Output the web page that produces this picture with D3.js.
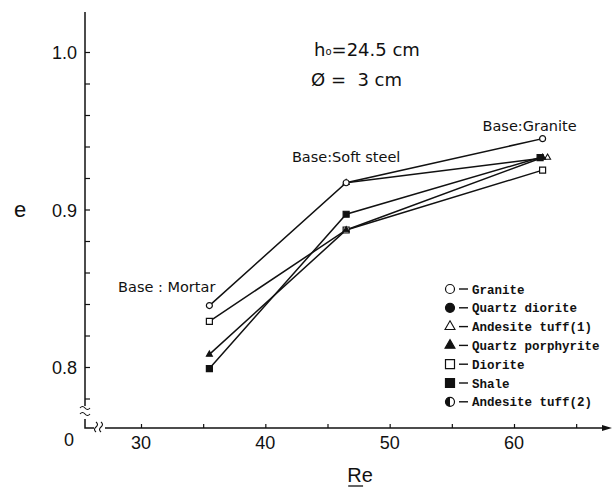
<!DOCTYPE html>
<html>
<head>
<meta charset="utf-8">
<script src="https://cdn.jsdelivr.net/npm/d3@7"></script>
<style>
  body { margin: 0; background: #fff; }
  svg { display: block; }
</style>
</head>
<body>
<div id="chart"></div>
<script>
// Axis ticks
const RE_TICKS = [30, 35, 40, 45, 50, 55, 60, 65];
const RE_LABELS = [30, 40, 50, 60];
const E_TICKS = [0.78, 0.80, 0.82, 0.84, 0.86, 0.88, 0.90, 0.92, 0.94, 0.96, 0.98, 1.00];
const E_LABELS = [0.8, 0.9, 1.0];

// [Re, e] per rock
const GRANITE = [[35.5, 0.839], [46.5, 0.917], [62.3, 0.945]];
const QUARTZ_DIORITE = [];
const ANDESITE_TUFF_1 = [[46.5, 0.917], [62.7, 0.933]];
const QUARTZ_PORPHYRITE = [[35.5, 0.808], [46.5, 0.887], [62.3, 0.933]];
const DIORITE = [[35.5, 0.829], [46.5, 0.887], [62.3, 0.925]];
const SHALE = [[35.5, 0.799], [46.5, 0.897], [62.1, 0.933]];
const ANDESITE_TUFF_2 = [];

const ROCK_NAMES = ["Granite", "Quartz diorite", "Andesite tuff(1)", "Quartz porphyrite", "Diorite", "Shale", "Andesite tuff(2)"];
const BASE_LABELS = ["Base : Mortar", "Base:Soft steel", "Base:Granite"];

const series = [
  { name: ROCK_NAMES[2], sym: "triOpen", values: ANDESITE_TUFF_1 },
  { name: ROCK_NAMES[4], sym: "sqOpen", values: DIORITE },
  { name: ROCK_NAMES[3], sym: "tri", values: QUARTZ_PORPHYRITE },
  { name: ROCK_NAMES[5], sym: "sq", values: SHALE },
  { name: ROCK_NAMES[1], sym: "circle", values: QUARTZ_DIORITE },
  { name: ROCK_NAMES[6], sym: "half", values: ANDESITE_TUFF_2 },
  { name: ROCK_NAMES[0], sym: "circleOpen", values: GRANITE }
];
const legendSyms = ["circleOpen", "circle", "triOpen", "tri", "sqOpen", "sq", "half"];

const W = 614, H = 491;
const axisX = 85, axisY = 428;

const svg = d3.select("#chart").append("svg")
  .attr("width", W).attr("height", H);

const x = d3.scaleLinear().domain([30, 60]).range([141, 514]);
const y = d3.scaleLinear().domain([0.8, 1.0]).range([367, 52]);

const ink = "#111";
const numFont = "'Liberation Sans', Arial, sans-serif";
const noteFont = "'DejaVu Sans', sans-serif";

// marker drawing
function marker(sel, sym, s) {
  // s = nominal width in px
  if (sym === "circleOpen" || sym === "circle") {
    sel.append("circle").attr("r", s / 2)
      .attr("fill", sym === "circle" ? ink : "#fff")
      .attr("stroke", ink).attr("stroke-width", 1.2);
  } else if (sym === "half") {
    const r = s / 2;
    sel.append("circle").attr("r", r).attr("fill", "#fff")
      .attr("stroke", ink).attr("stroke-width", 1.2);
    sel.append("path").attr("d", `M0,${-r}A${r},${r} 0 0 0 0,${r}Z`).attr("fill", ink);
  } else if (sym === "sqOpen" || sym === "sq") {
    sel.append("path")
      .attr("d", d3.symbol(d3.symbolSquare, s * s)())
      .attr("fill", sym === "sq" ? ink : "#fff")
      .attr("stroke", ink).attr("stroke-width", 1.2);
  } else {
    sel.append("path")
      .attr("d", d3.symbol(d3.symbolTriangle, Math.sqrt(3) / 4 * s * s)())
      .attr("fill", sym === "tri" ? ink : "#fff")
      .attr("stroke", ink).attr("stroke-width", 1.1);
  }
}

// X axis ticks (pointing up) and labels
const gx = svg.append("g").attr("transform", `translate(0,${axisY})`)
  .call(d3.axisBottom(x).tickValues(RE_TICKS).tickSize(-4).tickFormat(""))
  .call(ax => ax.select(".domain").remove())
  .call(ax => ax.selectAll(".tick line").attr("stroke", ink).attr("stroke-width", 1.2));

svg.append("g").selectAll("text").data(RE_LABELS).join("text")
  .attr("x", d => x(d)).attr("y", axisY + 21)
  .attr("text-anchor", "middle")
  .attr("font-family", numFont).attr("font-size", 18).attr("fill", ink)
  .text(d => d);

// Y axis ticks (pointing right) and labels
svg.append("g").attr("transform", `translate(${axisX},0)`)
  .call(d3.axisLeft(y).tickValues(E_TICKS).tickSize(-5).tickFormat(""))
  .call(ax => ax.select(".domain").remove())
  .call(ax => ax.selectAll(".tick line").attr("stroke", ink).attr("stroke-width", 1.2));

svg.append("g").selectAll("text").data(E_LABELS).join("text")
  .attr("x", axisX - 8).attr("y", d => y(d) + 7)
  .attr("text-anchor", "end")
  .attr("font-family", numFont).attr("font-size", 18).attr("fill", ink)
  .text(d => d3.format(".1f")(d));

svg.append("text")
  .attr("x", axisX - 16).attr("y", axisY + 18)
  .attr("text-anchor", "middle")
  .attr("font-family", numFont).attr("font-size", 18).attr("fill", ink)
  .text("0");

// axis lines with breaks
const axes = svg.append("g").attr("fill", "none").attr("stroke", ink).attr("stroke-width", 1.5);
axes.append("path").attr("d", `M${axisX},12V406`);
axes.append("path").attr("d", `M${axisX},419V${axisY}H94`);
axes.append("path").attr("d", `M105,${axisY}H604`);
// y break
axes.append("path").attr("stroke-width", 1.1)
  .attr("d", `M${axisX - 5},408 q2.5,-3 5,0 t5,0 M${axisX - 5},414 q2.5,-3 5,0 t5,0`);
// x break
axes.append("path").attr("stroke-width", 1.1)
  .attr("d", `M96,${axisY + 4} q-3,-2.5 0,-5 t0,-5 M101,${axisY + 4} q-3,-2.5 0,-5 t0,-5`);
// arrow
svg.append("path")
  .attr("d", `M612,${axisY} L602,${axisY - 3} L602,${axisY + 3} Z`)
  .attr("fill", ink);

// series lines
const line = d3.line().x(d => x(d[0])).y(d => y(d[1]));
svg.append("g").selectAll("path").data(series.filter(s => s.values.length > 1)).join("path")
  .attr("d", s => line(s.values))
  .attr("fill", "none").attr("stroke", ink).attr("stroke-width", 1.5);

// markers
series.forEach(s => {
  s.values.forEach(v => {
    const gm = svg.append("g").attr("transform", `translate(${x(v[0])},${y(v[1])})`);
    const size = s.sym.startsWith("tri") ? 6 : s.sym.startsWith("sq") ? 6 : 6;
    marker(gm, s.sym, size);
  });
});

// base labels
const baseAnchors = [
  { p: GRANITE[0], dx: 6, dy: -14, anchor: "end" },
  { p: GRANITE[1], dx: 0, dy: -21, anchor: "middle" },
  { p: GRANITE[2], dx: -13, dy: -8, anchor: "middle" }
];
svg.append("g").selectAll("text").data(BASE_LABELS).join("text")
  .attr("x", (d, i) => x(baseAnchors[i].p[0]) + baseAnchors[i].dx)
  .attr("y", (d, i) => y(baseAnchors[i].p[1]) + baseAnchors[i].dy)
  .attr("text-anchor", (d, i) => baseAnchors[i].anchor)
  .attr("font-family", noteFont).attr("font-size", 14.5).attr("fill", ink)
  .text(d => d);

// conditions note
const note = svg.append("g").attr("font-family", noteFont).attr("font-size", 18).attr("fill", ink);
const t1 = note.append("text").attr("x", 314).attr("y", 56);
t1.append("tspan").text("h");
t1.append("tspan").attr("font-size", 10).attr("dy", -1).text("o");
t1.append("tspan").attr("dy", 1).text("=24.5 cm");
note.append("text").attr("x", 311).attr("y", 86).attr("xml:space", "preserve")
  .text("Ø =  3 cm");

// axis titles
const reLabel = svg.append("text")
  .attr("x", 360).attr("y", 482)
  .attr("text-anchor", "middle")
  .attr("font-family", numFont).attr("font-size", 20).attr("fill", ink)
  .text("Re");
const rb = reLabel.node().getBBox();
svg.append("line")
  .attr("x1", rb.x + 1).attr("x2", rb.x + rb.width * 0.62)
  .attr("y1", 486).attr("y2", 486)
  .attr("stroke", ink).attr("stroke-width", 1.3);

svg.append("text")
  .attr("x", 20).attr("y", 217)
  .attr("text-anchor", "middle")
  .attr("font-family", numFont).attr("font-size", 22).attr("fill", ink)
  .text("e");

// legend
const legend = svg.append("g");
const lg = legend.selectAll("g").data(ROCK_NAMES).join("g")
  .attr("transform", (d, i) => `translate(450,${289 + i * 18.8})`);
lg.each(function(d, i) {
  const g = d3.select(this);
  marker(g, legendSyms[i], legendSyms[i].startsWith("tri") ? 10 : 9);
  g.append("line").attr("x1", 9).attr("x2", 18).attr("y1", 0).attr("y2", 0)
    .attr("stroke", ink).attr("stroke-width", 1.4);
  g.append("text").attr("x", 22).attr("y", 4.5)
    .attr("font-family", "'Liberation Mono', monospace").attr("font-weight", "bold")
    .attr("font-size", 12.5).attr("fill", ink)
    .text(d);
});
</script>
</body>
</html>
